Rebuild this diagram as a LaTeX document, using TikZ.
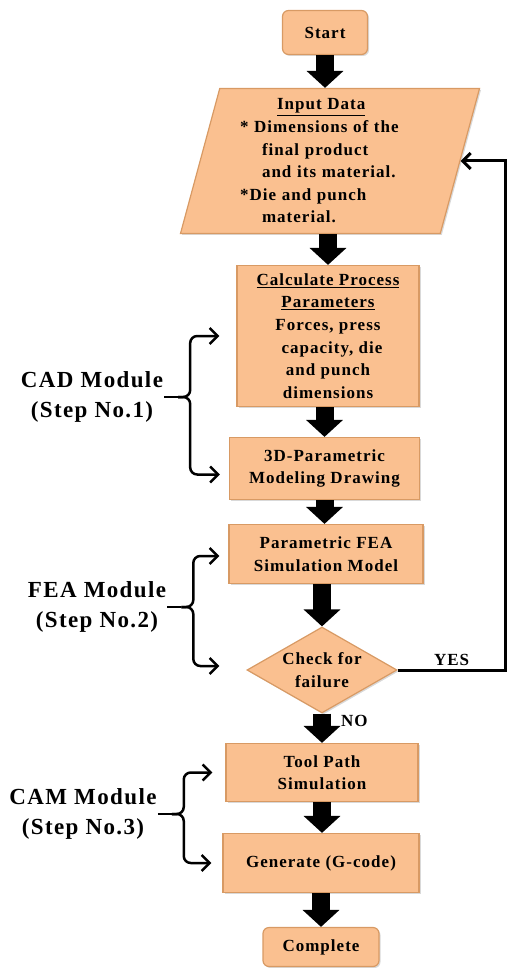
\documentclass[tikz,border=0pt]{standalone}
\usepackage{fontspec}
\setmainfont{Liberation Serif}[LetterSpace=6]
\usetikzlibrary{positioning,arrows.meta,shapes.geometric,shadows}
\definecolor{peach}{HTML}{FAC090}
\definecolor{peachdk}{HTML}{D89A64}
\tikzset{
  blk/.style ={rectangle, draw=peachdk, line width=1.2pt, fill=peach, align=center, inner sep=2pt,
               font=\bfseries\fontsize{17}{22.6}\selectfont,
               drop shadow={shadow xshift=1.5pt, shadow yshift=-1.5pt, opacity=0.3}},
  term/.style={blk, rounded corners=6pt},
  io/.style  ={blk, trapezium, trapezium left angle=73, trapezium right angle=107,
               trapezium stretches body, minimum width=299pt, minimum height=145pt,
               text width=180pt, align=left},
  dec/.style ={blk, diamond, minimum width=150pt, minimum height=86pt, aspect=1.75, inner sep=-4pt},
  mod/.style ={align=center, inner sep=1pt, font=\bfseries\fontsize{23}{30}\selectfont},
  lbl/.style ={font=\bfseries\fontsize{17}{20}\selectfont, inner sep=1pt},
  flow/.style={line width=18pt, -{Triangle[width=36pt,length=17pt]}},
  brc/.style ={line width=2.5pt, rounded corners=7pt},
  >={Straight Barb[length=8pt,width=16pt]},
}

\begin{document}
\begin{tikzpicture}[x=1pt,y=-1pt]
\useasboundingbox (0,0) rectangle (507,968);
\node[term, minimum width=85pt, minimum height=44pt] (start) at (325,32.5) {Start};
\node[io] (input) at (330,161) {\hspace*{37pt}\underline{Input Data}\\
  {*} Dimensions of the\\
  \hspace*{22pt}final product\\
  \hspace*{22pt}and its material.\\
  {*}Die and punch\\
  \hspace*{22pt}material.};
\node[blk, minimum width=182pt, minimum height=141pt] (calc) at (328,336)
  {\underline{Calculate Process}\\\underline{Parameters}\\Forces, press\\\hspace*{8pt}capacity, die\\and punch\\dimensions};
\node[blk, minimum width=190pt, minimum height=62pt] (d3) at (324.5,468.5) {3D-Parametric\\Modeling Drawing};
\node[blk, minimum width=194pt, minimum height=59pt] (fea) at (326,554) {Parametric FEA\\Simulation Model};
\node[dec] (chk) at (322,670) {Check for\\failure};
\node[blk, minimum width=192pt, minimum height=58pt] (tool) at (322,772.5) {Tool Path\\Simulation};
\node[blk, minimum width=196pt, minimum height=59pt] (gen) at (321,863) {Generate (G-code)};
\node[term, minimum width=116pt, minimum height=39pt] (done) at (321,947) {Complete};
% main flow
\draw[flow] (start) -- (start |- input.north);
\draw[flow] (calc |- input.south) -- (calc.north);
\draw[flow] (d3 |- calc.south) -- (d3.north);
\draw[flow] (d3.south) -- (d3 |- fea.north);
\draw[flow] (chk |- fea.south) -- (chk.north);
\draw[flow] (chk.south) -- node[lbl, right=9pt, pos=0.25]{NO} (tool.north);
\draw[flow] (tool.south) -- (tool |- gen.north);
\draw[flow] (gen.south) -- (gen |- done.north);
% failure loops back to the input
\draw[line width=3pt, ->] (chk.east) -- node[lbl, above=2pt]{YES} ++(108,0) |- (input.east);
% module braces
\node[mod] (cad) at (92,397) {CAD Module\\(Step No.1)};
\node[mod] (feam) at (97,607) {FEA Module\\(Step No.2)};
\node[mod] (cam) at (83,814) {CAM Module\\(Step No.3)};
\draw[brc] (cad.east) -- ++(14,0) coordinate (cadm);
\draw[brc,->] (cadm) -- ++(12,0) |- ([xshift=-17pt]calc.west);
\draw[brc,->] (cadm) -- ++(12,0) |- ([xshift=-9pt,yshift=-6pt]d3.west);
\draw[brc] (feam.east) -- ++(14,0) coordinate (feamm);
\draw[brc,->] (feamm) -- ++(12,0) |- ([xshift=-9pt,yshift=-2pt]fea.west);
\draw[brc,->] (feamm) -- ++(12,0) |- ([xshift=-27pt,yshift=4pt]chk.west);
\draw[brc] (cam.east) -- ++(14,0) coordinate (camm);
\draw[brc,->] (camm) -- ++(12,0) |- ([xshift=-13pt]tool.west);
\draw[brc,->] (camm) -- ++(12,0) |- ([xshift=-11pt]gen.west);
\end{tikzpicture}
\end{document}
